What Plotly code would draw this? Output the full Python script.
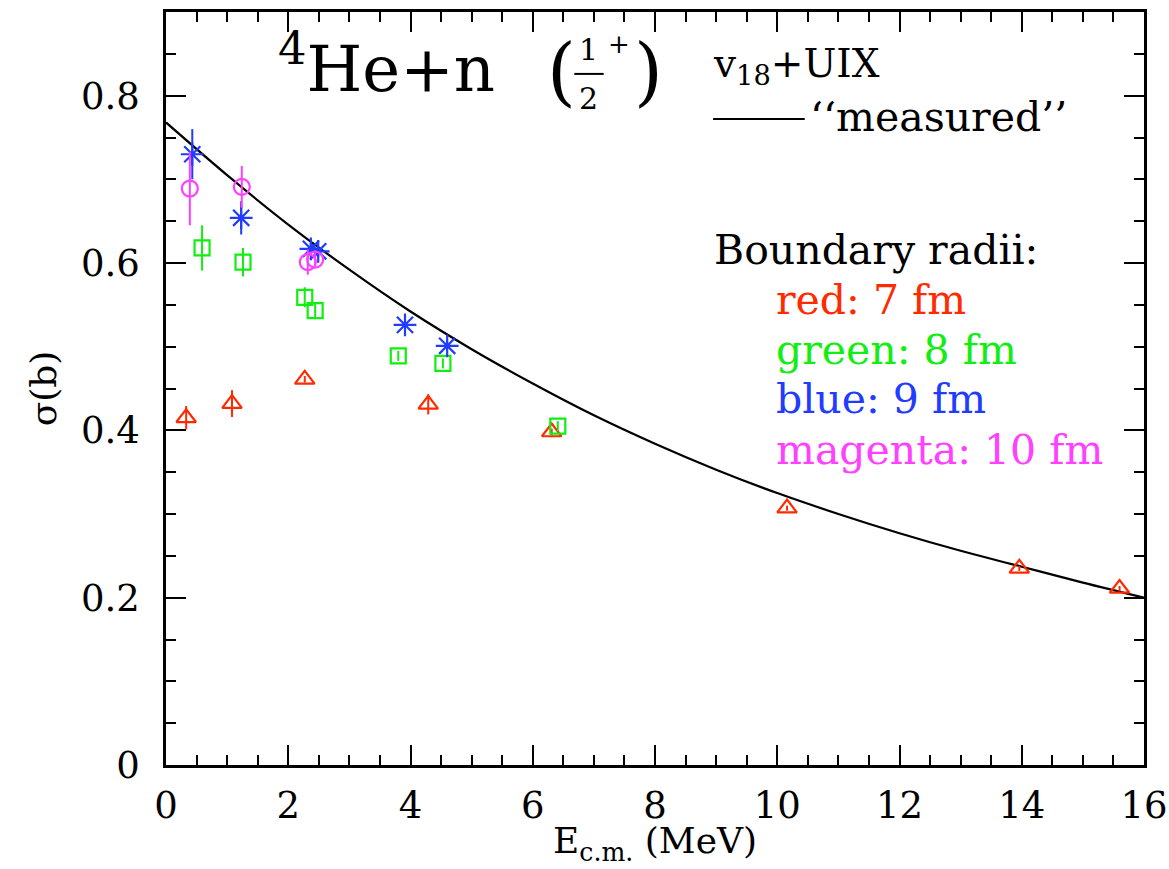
import plotly.graph_objects as go

# "measured" cross section curve (E_cm in MeV, sigma in barn)
curve_e = [0, 1, 2, 3, 4, 5, 6, 7, 8, 9, 10, 11, 12, 13, 14, 15, 16]
curve_sigma = [0.768, 0.705, 0.646, 0.592, 0.542, 0.497, 0.456, 0.418, 0.384,
               0.353, 0.325, 0.300, 0.277, 0.256, 0.237, 0.218, 0.200]

# R-matrix fits for the different boundary radii
red_e = [0.33, 1.08, 2.27, 4.29, 6.31, 10.16, 13.96, 15.60]
red_sigma = [0.415, 0.432, 0.461, 0.431, 0.398, 0.307, 0.235, 0.211]
red_err = [0.014, 0.016, 0.004, 0.012, 0.004, 0.003, 0.003, 0.003]

green_e = [0.59, 1.26, 2.27, 2.44, 3.80, 4.53, 6.41]
green_sigma = [0.618, 0.601, 0.559, 0.543, 0.489, 0.480, 0.405]
green_err = [0.027, 0.017, 0.012, 0.010, 0.006, 0.006, 0.006]

blue_e = [0.43, 1.23, 2.37, 2.49, 3.91, 4.60]
blue_sigma = [0.730, 0.654, 0.617, 0.614, 0.526, 0.501]
blue_err = [0.030, 0.020, 0.004, 0.004, 0.003, 0.003]

magenta_e = [0.39, 1.24, 2.32, 2.44]
magenta_sigma = [0.689, 0.691, 0.601, 0.604]
magenta_err = [0.044, 0.025, 0.015, 0.008]

y_ticks = [0, 0.2, 0.4, 0.6, 0.8]
y_tick_text = ["0", "0.2", "0.4", "0.6", "0.8"]
x_ticks = [0, 2, 4, 6, 8, 10, 12, 14, 16]
x_tick_text = ["0", "2", "4", "6", "8", "10", "12", "14", "16"]

RED = "#ff2a00"
GREEN = "#11ee11"
BLUE = "#1f3cff"
MAGENTA = "#ff40ff"
FONT = "DejaVu Serif"

fig = go.Figure()

fig.add_trace(go.Scatter(x=curve_e, y=curve_sigma, mode="lines",
                         line=dict(color="black", width=2.2, shape="spline",
                                   smoothing=1.0),
                         showlegend=False))


def add_series(xs, ys, errs, color, symbol, size):
    fig.add_trace(go.Scatter(
        x=xs, y=ys, mode="markers",
        marker=dict(symbol=symbol, size=size, color=color,
                    line=dict(color=color, width=2.2)),
        error_y=dict(type="data", array=errs, visible=True,
                     color=color, thickness=2, width=0),
        showlegend=False))


add_series(red_e, red_sigma, red_err, RED, "triangle-up-open", 17)
add_series(green_e, green_sigma, green_err, GREEN, "square-open", 15)
add_series(blue_e, blue_sigma, blue_err, BLUE, "asterisk-open", 19)
add_series(magenta_e, magenta_sigma, magenta_err, MAGENTA, "circle-open", 16)

axis_common = dict(
    showline=True, linecolor="black", linewidth=2.5, mirror="ticks",
    ticks="inside", ticklen=20, tickwidth=2, tickcolor="black",
    showgrid=False, zeroline=False, ticklabeloverflow="allow",
    automargin=False,
    tickfont=dict(family=FONT, size=37, color="black"),
)

fig.update_xaxes(range=[0, 16], tickvals=x_ticks, ticktext=x_tick_text,
                 minor=dict(dtick=0.5, ticks="inside", ticklen=10,
                            tickwidth=2, tickcolor="black"),
                 ticklabelstandoff=6,
                 **axis_common)
fig.update_yaxes(range=[0, 0.9], tickvals=y_ticks, ticktext=y_tick_text,
                 minor=dict(dtick=0.05, ticks="inside", ticklen=10,
                            tickwidth=2, tickcolor="black"),
                 ticklabelstandoff=16,
                 title=dict(text="σ(b)",
                            font=dict(family=FONT, size=36, color="black"),
                            standoff=14),
                 **axis_common)

annotations = [
    # x-axis title, placed just below the tick labels
    dict(x=0.5, y=-0.104, xref="paper", yref="paper",
         text="E<sub>c.m.</sub> (MeV)", showarrow=False,
         xanchor="center", yanchor="middle",
         font=dict(family=FONT, size=36, color="black")),
]


def txt(x, y, text, size, color="black", xanchor="left", yanchor="middle"):
    annotations.append(dict(x=x, y=y, xref="x", yref="y", text=text,
                            showarrow=False, xanchor=xanchor, yanchor=yanchor,
                            font=dict(family=FONT, size=size, color=color)))


# Title: 4He+n (1/2 +)
txt(1.80, 0.838, "<sup>4</sup>He+n", 64)
txt(6.20, 0.829, "(", 74)
txt(6.92, 0.855, "1", 30, xanchor="center")
txt(6.92, 0.797, "2", 30, xanchor="center")
txt(7.20, 0.862, "+", 26)
txt(7.62, 0.829, ")", 74)

# Interaction label and curve key
txt(8.92, 0.835, "v<sub>18</sub>+UIX", 39)
txt(10.50, 0.775, "‘‘measured’’", 41)

txt(8.94, 0.616, "Boundary radii:", 41)
txt(9.94, 0.556, "red: 7 fm", 41, RED)
txt(9.94, 0.496, "green: 8 fm", 41, GREEN)
txt(9.94, 0.437, "blue: 9 fm", 41, BLUE)
txt(9.94, 0.377, "magenta: 10 fm", 41, MAGENTA)

shapes = [
    # fraction bar
    dict(type="line", xref="x", yref="y", x0=6.68, x1=7.16, y0=0.826, y1=0.826,
         line=dict(color="black", width=2)),
    # key line for the "measured" curve
    dict(type="line", xref="x", yref="y", x0=8.95, x1=10.45, y0=0.772, y1=0.772,
         line=dict(color="black", width=2)),
]

fig.update_layout(
    width=1169, height=869,
    margin=dict(l=166, r=25, t=12, b=104),
    plot_bgcolor="white", paper_bgcolor="white",
    annotations=annotations, shapes=shapes,
)

fig.write_html("out.html")
